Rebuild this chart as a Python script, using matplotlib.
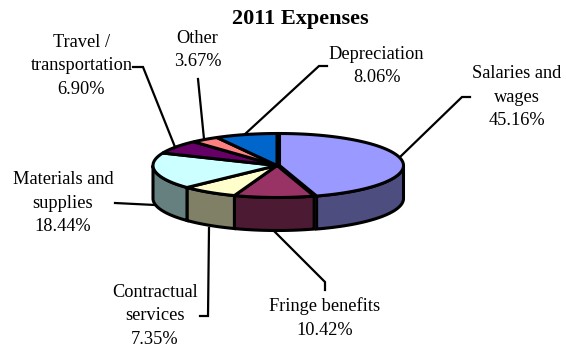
import numpy as np
import matplotlib
matplotlib.use("Agg")
import matplotlib.pyplot as plt
from matplotlib.patches import Polygon

categories = ["Salaries and\nwages", "Fringe benefits", "Contractual\nservices",
              "Materials and\nsupplies", "Travel /\ntransportation", "Other", "Depreciation"]
shares = [45.16, 10.42, 7.35, 18.44, 6.90, 3.67, 8.06]
top_colors = ["#9999FF", "#993366", "#FFFFCC", "#CCFFFF", "#660066", "#FF8080", "#0066CC"]
side_colors = ["#4D4D80", "#4D1A33", "#808066", "#668080", "#330033", "#804040", "#003366"]
label_centers = [(517, 97), (325, 318), (155, 316), (63, 203), (81.5, 66), (197.5, 50), (376.5, 66)]
leaders = [
    [(400, 157), (462, 97), (470, 97)],
    [(275, 232), (325, 282), (325, 290)],
    [(209, 228), (208, 316), (200, 316)],
    [(155, 205), (115, 203)],
    [(175, 147), (143, 67), (133, 67)],
    [(204, 139), (198, 79)],
    [(244, 135), (319, 66), (327, 66)],
]

CX, CY, RX, RY, DEPTH = 277.0, 165.5, 124.0, 32.0, 33.0
FONT = ["Liberation Serif", "DejaVu Serif"]

fig = plt.figure(figsize=(5.66, 3.45), dpi=100)
ax = fig.add_axes([0, 0, 1, 1])
ax.set_xlim(0, 566)
ax.set_ylim(345, 0)
ax.axis("off")


def rim(a0, a1, dx=0.0, dy=0.0):
    """Points along the ellipse, with angles clockwise from twelve o'clock."""
    t = np.radians(np.linspace(a0, a1, 80))
    return np.column_stack([CX + dx + RX * np.sin(t), CY + dy - RY * np.cos(t)])


edges = np.cumsum([0] + shares) / sum(shares) * 360
edge_kw = dict(edgecolor="black", linewidth=2.2, joinstyle="miter")

# Side walls, limited to the front half of the disc
for i in range(len(shares)):
    a0, a1 = max(edges[i], 90), min(edges[i + 1], 270)
    if a0 >= a1:
        continue
    dx = 2.5 if i == 0 else 0.0
    upper = rim(a0, a1, dx)
    lower = rim(a0, a1, dx, DEPTH)[::-1]
    ax.add_patch(Polygon(np.vstack([upper, lower]), facecolor=side_colors[i], zorder=2, **edge_kw))

# Top faces
for i in range(len(shares)):
    dx = 2.5 if i == 0 else 0.0
    pts = np.vstack([[CX + dx, CY], rim(edges[i], edges[i + 1], dx)])
    ax.add_patch(Polygon(pts, facecolor=top_colors[i], zorder=3, **edge_kw))

for path in leaders:
    xs, ys = zip(*path)
    ax.plot(xs, ys, color="black", linewidth=1.6, solid_joinstyle="miter", zorder=1)

for name, share, (x, y) in zip(categories, shares, label_centers):
    ax.text(x, y, f"{name}\n{share:.2f}%", ha="center", va="center", family=FONT,
            fontsize=13.2, color="black", linespacing=1.52, zorder=4)

ax.text(300, 19, "2011 Expenses", ha="center", va="center", family=FONT,
        fontsize=16, fontweight="bold", color="black")

fig.savefig("out.png", dpi=100, facecolor="white")
